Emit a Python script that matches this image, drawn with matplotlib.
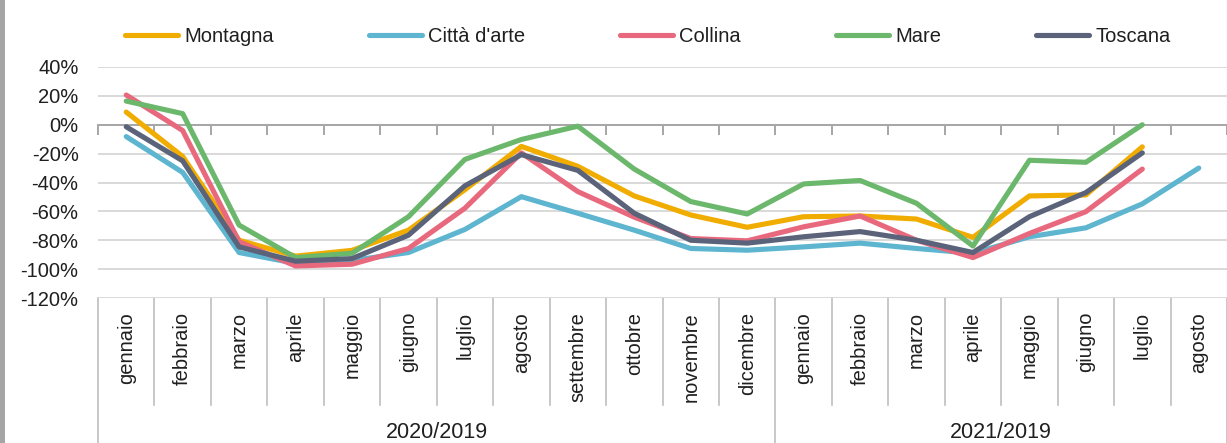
import numpy as np
import matplotlib
matplotlib.use("Agg")
import matplotlib.pyplot as plt
from matplotlib.patches import Rectangle
import matplotlib.transforms as mtransforms

# ---------------- data ----------------
months = ["gennaio", "febbraio", "marzo", "aprile", "maggio", "giugno", "luglio",
          "agosto", "settembre", "ottobre", "novembre", "dicembre",
          "gennaio", "febbraio", "marzo", "aprile", "maggio", "giugno", "luglio", "agosto"]
groups = ["2020/2019", "2021/2019"]
group_sizes = [12, 8]

nan = np.nan
montagna = [8.8, -22, -80, -91, -87, -73, -45, -15, -28.8, -49.3, -62.5, -71,
            -63.7, -63.2, -65.3, -78, -49.3, -48.6, -15.3, nan]
citta = [-8.2, -33, -88.5, -96, -94, -88.5, -72.5, -49.8, -61.3, -73, -85.7, -86.9,
         -84.6, -82, -85.7, -89, -77.6, -71.4, -54.8, -30]
collina = [20.6, -4, -81, -97.8, -96.6, -85.7, -57.8, -19.5, -46.3, -64, -78.8, -80.4,
           -70.7, -63.2, -80, -92, -75.3, -60.2, -30.7, nan]
mare = [16.4, 7.7, -69.5, -92, -89, -63.7, -24, -10.2, -1, -30.7, -53.2, -61.8,
        -41, -38.6, -54.4, -84, -24.6, -26, 0, nan]
toscana = [-1.4, -25, -84.6, -94.5, -92.7, -76.5, -42.3, -20.7, -31.6, -61.3, -80, -82,
           -77.6, -74, -80, -88.5, -63.7, -47, -19.5, nan]

series_names = ["Montagna", "Città d'arte", "Collina", "Mare", "Toscana"]
series_values = [montagna, citta, collina, mare, toscana]
series_colors = ["#F1AC00", "#5DB5CF", "#E8697E", "#6BB76C", "#5A6379"]

yticks = [40, 20, 0, -20, -40, -60, -80, -100, -120]

# ---------------- figure ----------------
W, H = 1227, 443
plt.rcParams['font.family'] = ['Liberation Sans', 'DejaVu Sans']
fig = plt.figure(figsize=(W / 100, H / 100), dpi=100)

ax_left, ax_right, ax_top, ax_bottom = 98, 1227, 67, 298
ax = fig.add_axes([ax_left / W, 1 - ax_bottom / H, (ax_right - ax_left) / W,
                   (ax_bottom - ax_top) / H])

txt_col = "#1F1F1F"
fs = 14.5

# left gray border
fig.add_artist(Rectangle((0, 0), 5 / W, 1, transform=fig.transFigure,
                         facecolor="#A5A5A5", edgecolor="none"))

x = np.arange(len(months))
handles = []
for name, vals, col in zip(series_names, series_values, series_colors):
    h, = ax.plot(x, np.array(vals) / 100.0, color=col, lw=3.7, label=name,
                 solid_capstyle='round', solid_joinstyle='round', zorder=3)
    handles.append(h)

ax.set_xlim(-0.5, len(months) - 0.5)
ax.set_ylim(-1.2, 0.4)
ax.set_yticks([v / 100 for v in yticks])
ax.set_yticklabels([f"{v}%" for v in yticks], fontsize=fs, color=txt_col)
ax.yaxis.grid(True, color="#D9D9D9", lw=1.4, zorder=0)
ax.tick_params(axis='y', length=0, pad=14)

for s in ["left", "right", "top"]:
    ax.spines[s].set_visible(False)
ax.spines['bottom'].set_position(('data', 0))
ax.spines['bottom'].set_color("#A6A6A6")
ax.spines['bottom'].set_linewidth(1.4)
ax.set_xticks(np.arange(len(months) + 1) - 0.5)
ax.set_xticklabels([])
ax.tick_params(axis='x', direction='out', length=7, width=1.4, color="#A6A6A6")

# category labels area (multi-level)
trans = mtransforms.blended_transform_factory(ax.transData, ax.transAxes)
axh = ax_bottom - ax_top
def yfrac(py):
    return (ax_bottom - py) / axh

group_edges = np.concatenate([[0], np.cumsum(group_sizes)]) - 0.5
for k in range(len(months) + 1):
    xb = k - 0.5
    long = np.any(np.isclose(group_edges, xb))
    ybot = yfrac(H) if long else yfrac(405)
    ax.plot([xb, xb], [0, ybot], transform=trans, color="#BFBFBF", lw=1.2,
            clip_on=False, zorder=1)

for i, m in enumerate(months):
    ax.text(i, yfrac(312), m, transform=trans, rotation=90, ha='center', va='top',
            fontsize=fs, color=txt_col)

for g, a, b in zip(groups, group_edges[:-1], group_edges[1:]):
    ax.text((a + b) / 2, yfrac(432), g, transform=trans, ha='center', va='center',
            fontsize=15.5, color=txt_col)

ax.legend(handles=handles, loc='center left', bbox_to_anchor=(125 / W, 1 - 37 / H),
          bbox_transform=fig.transFigure, ncol=5, frameon=False, fontsize=fs,
          handlelength=2.65, handletextpad=0.3, columnspacing=4.7,
          borderpad=0, borderaxespad=0, labelcolor=txt_col)

fig.savefig("out.png", dpi=100)
